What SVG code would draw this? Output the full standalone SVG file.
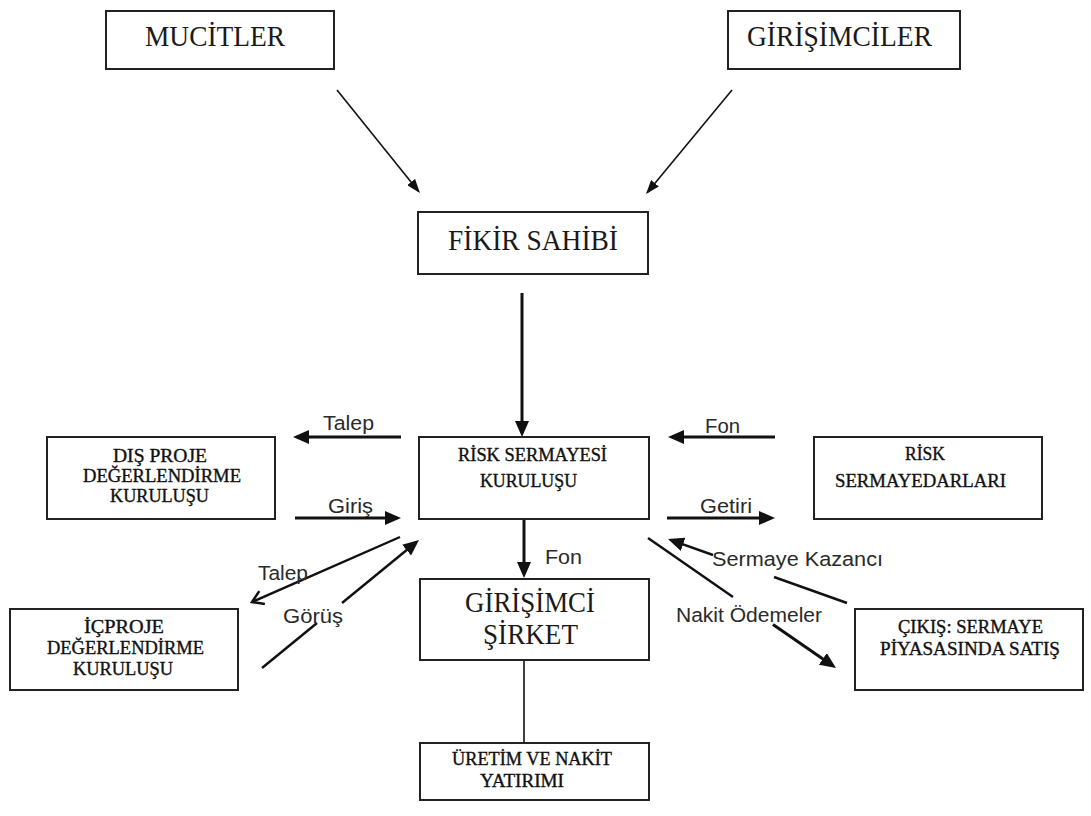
<svg xmlns="http://www.w3.org/2000/svg" width="1091" height="816" viewBox="0 0 1091 816">
<style>
.box{fill:#fff;stroke:#222;stroke-width:2}
.big{font-family:"Liberation Serif","Times New Roman",serif;font-size:30px;fill:#1a1a1a}
.sm{font-family:"Liberation Serif","Times New Roman",serif;font-size:18px;fill:#111;stroke:#111;stroke-width:0.35}
.lbl{font-family:"Liberation Sans",Arial,sans-serif;font-size:20.5px;fill:#2a2a2a}
.thin{stroke:#111;stroke-width:1.6;fill:none}
.thick{stroke:#111;stroke-width:3;fill:none}
.mid{stroke:#111;stroke-width:2.4;fill:none}
</style>
<defs>
<marker id="ah" markerUnits="userSpaceOnUse" markerWidth="16" markerHeight="14" refX="12" refY="7" orient="auto" viewBox="0 0 16 14">
<path d="M0,0 L16,7 L0,14 z" fill="#111"/>
</marker>
<marker id="ahs" markerUnits="userSpaceOnUse" markerWidth="14" markerHeight="10" refX="12" refY="5" orient="auto" viewBox="0 0 14 10">
<path d="M0,0 L14,5 L0,10 z" fill="#111"/>
</marker>
<marker id="open" markerUnits="userSpaceOnUse" markerWidth="16" markerHeight="16" refX="13" refY="8" orient="auto" viewBox="0 0 16 16">
<path d="M2,1 L13,8 L2,15" fill="none" stroke="#111" stroke-width="2.5"/>
</marker>
</defs>
<rect width="1091" height="816" fill="#fff"/>

<g id="connectors">
<line class="thin" x1="337" y1="90" x2="418.7" y2="191.4" marker-end="url(#ahs)"/>
<line class="thin" x1="732" y1="90" x2="647.3" y2="192.5" marker-end="url(#ahs)"/>
<line class="thick" x1="522" y1="293" x2="522" y2="433" marker-end="url(#ah)"/>
<line class="thick" x1="401" y1="437" x2="297" y2="437" marker-end="url(#ah)"/>
<line class="thick" x1="295" y1="518" x2="397" y2="518" marker-end="url(#ah)"/>
<line class="mid" x1="400" y1="537" x2="252" y2="602" marker-end="url(#open)"/>
<line class="mid" x1="262" y1="668" x2="317" y2="623"/>
<line class="mid" x1="342" y1="603" x2="415.9" y2="542.5" marker-end="url(#ah)"/>
<line class="thick" x1="775" y1="437" x2="672" y2="437" marker-end="url(#ah)"/>
<line class="thick" x1="667" y1="518" x2="771" y2="518" marker-end="url(#ah)"/>
<line class="mid" x1="847" y1="603" x2="774" y2="577"/>
<line class="mid" x1="713" y1="555" x2="671.8" y2="540.3" marker-end="url(#ah)"/>
<line class="mid" x1="648" y1="538" x2="733" y2="597"/>
<line class="thick" x1="773" y1="624.4" x2="832.7" y2="665.7" marker-end="url(#ah)"/>
<line class="thick" x1="524" y1="520" x2="524" y2="574" marker-end="url(#ah)"/>
<line class="thin" x1="524" y1="660" x2="524" y2="743"/>
</g>

<g id="labels">
<text class="lbl" x="323" y="430" textLength="51" lengthAdjust="spacingAndGlyphs">Talep</text>
<text class="lbl" x="328" y="513" textLength="45" lengthAdjust="spacingAndGlyphs">Giriş</text>
<text class="lbl" x="258" y="580" textLength="50" lengthAdjust="spacingAndGlyphs">Talep</text>
<text class="lbl" x="283" y="623" textLength="60" lengthAdjust="spacingAndGlyphs">Görüş</text>
<text class="lbl" x="705" y="433" textLength="35" lengthAdjust="spacingAndGlyphs">Fon</text>
<text class="lbl" x="700" y="513" textLength="52" lengthAdjust="spacingAndGlyphs">Getiri</text>
<text class="lbl" x="712" y="566" textLength="171" lengthAdjust="spacingAndGlyphs">Sermaye Kazancı</text>
<text class="lbl" x="676" y="622" textLength="146" lengthAdjust="spacingAndGlyphs">Nakit Ödemeler</text>
<text class="lbl" x="545" y="564" textLength="37" lengthAdjust="spacingAndGlyphs">Fon</text>
</g>

<g id="mucitler">
<rect class="box" x="106" y="11" width="228" height="58"/>
<text class="big" x="145" y="46" textLength="140" lengthAdjust="spacingAndGlyphs">MUCİTLER</text>
</g>
<g id="girisimciler">
<rect class="box" x="728" y="11" width="232" height="58"/>
<text class="big" x="747" y="46" textLength="185" lengthAdjust="spacingAndGlyphs">GİRİŞİMCİLER</text>
</g>
<g id="fikir-sahibi">
<rect class="box" x="418" y="212" width="230" height="62"/>
<text class="big" x="448" y="250" font-size="31" textLength="170" lengthAdjust="spacingAndGlyphs">FİKİR SAHİBİ</text>
</g>
<g id="risk-sermayesi-kurulusu">
<rect class="box" x="419" y="437" width="230" height="82"/>
<text class="sm" x="458" y="461" textLength="149" lengthAdjust="spacingAndGlyphs">RİSK SERMAYESİ</text>
<text class="sm" x="480" y="487" textLength="97" lengthAdjust="spacingAndGlyphs">KURULUŞU</text>
</g>
<g id="dis-proje">
<rect class="box" x="47" y="437" width="228" height="82"/>
<text class="sm" x="113" y="462" textLength="94" lengthAdjust="spacingAndGlyphs">DIŞ PROJE</text>
<text class="sm" x="83" y="482" textLength="158" lengthAdjust="spacingAndGlyphs">DEĞERLENDİRME</text>
<text class="sm" x="110" y="502" textLength="99" lengthAdjust="spacingAndGlyphs">KURULUŞU</text>
</g>
<g id="ic-proje">
<rect class="box" x="10" y="609" width="228" height="81"/>
<text class="sm" x="84" y="633" textLength="80" lengthAdjust="spacingAndGlyphs">İÇPROJE</text>
<text class="sm" x="47" y="654" textLength="157" lengthAdjust="spacingAndGlyphs">DEĞERLENDİRME</text>
<text class="sm" x="73" y="675" textLength="100" lengthAdjust="spacingAndGlyphs">KURULUŞU</text>
</g>
<g id="risk-sermayedarlari">
<rect class="box" x="814" y="437" width="228" height="82"/>
<text class="sm" x="905" y="460" textLength="40" lengthAdjust="spacingAndGlyphs">RİSK</text>
<text class="sm" x="835" y="487" textLength="171" lengthAdjust="spacingAndGlyphs">SERMAYEDARLARI</text>
</g>
<g id="girisimci-sirket">
<rect class="box" x="420" y="579" width="229" height="81"/>
<text class="big" x="465" y="612" font-size="28" fill="#333" textLength="130" lengthAdjust="spacingAndGlyphs">GİRİŞİMCİ</text>
<text class="big" x="483" y="644" font-size="28" fill="#333" textLength="95" lengthAdjust="spacingAndGlyphs">ŞİRKET</text>
</g>
<g id="cikis">
<rect class="box" x="855" y="609" width="228" height="81"/>
<text class="sm" x="898" y="633" textLength="145" lengthAdjust="spacingAndGlyphs">ÇIKIŞ: SERMAYE</text>
<text class="sm" x="880" y="655" textLength="180" lengthAdjust="spacingAndGlyphs">PİYASASINDA SATIŞ</text>
</g>
<g id="uretim">
<rect class="box" x="420" y="743" width="229" height="57"/>
<text class="sm" x="452" y="765" textLength="160" lengthAdjust="spacingAndGlyphs">ÜRETİM VE NAKİT</text>
<text class="sm" x="480" y="787" textLength="84" lengthAdjust="spacingAndGlyphs">YATIRIMI</text>
</g>
</svg>
